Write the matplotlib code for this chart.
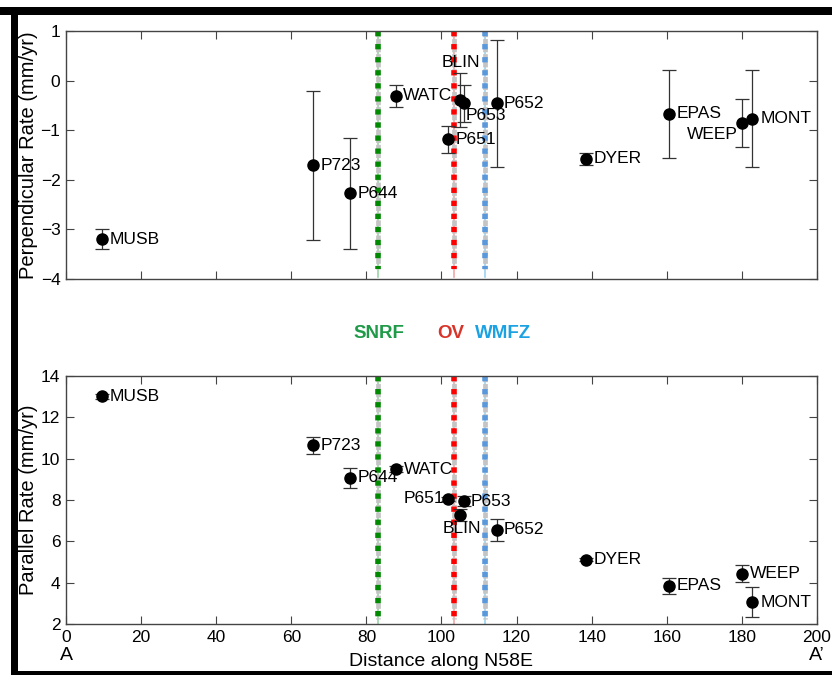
import matplotlib
matplotlib.use("Agg")
import matplotlib.pyplot as plt
from matplotlib.patches import Rectangle
import numpy as np

plt.rcParams['font.family'] = ['Liberation Sans', 'DejaVu Sans']

stations = ['MUSB', 'P723', 'P644', 'WATC', 'P651', 'BLIN', 'P653', 'P652',
            'DYER', 'EPAS', 'WEEP', 'MONT']
dist = [9.7, 65.9, 75.7, 87.9, 101.8, 104.9, 106.0, 114.7, 138.6, 160.7, 179.9, 182.8]
perp = [-3.20, -1.71, -2.27, -0.31, -1.18, -0.39, -0.46, -0.46, -1.58, -0.67, -0.85, -0.77]
perp_err = [0.20, 1.50, 1.12, 0.22, 0.27, 0.55, 0.38, 1.28, 0.13, 0.89, 0.48, 0.98]
par = [13.02, 10.65, 9.07, 9.50, 8.05, 7.26, 7.94, 6.56, 5.11, 3.84, 4.44, 3.06]
par_err = [0.12, 0.42, 0.50, 0.15, 0.10, 0.30, 0.25, 0.53, 0.08, 0.39, 0.42, 0.72]

faults = ['SNRF', 'OV', 'WMFZ']
fault_x = [83.2, 103.3, 111.5]
fault_col = ['#008a00', '#ff0000', '#5a98dc']
fault_thin = ['#9ad4a4', '#f0a8a8', '#9ad4f0']
fault_text_col = ['#1e9a48', '#d8342a', '#1ca2e2']

xticks = list(range(0, 201, 20))
perp_ticks = [-4, -3, -2, -1, 0, 1]
par_ticks = [2, 4, 6, 8, 10, 12, 14]

# label offsets in pixels (dx, dy, ha)
top_off = {
    'MUSB': (7, 0, 'left'), 'P723': (7, 0, 'left'), 'P644': (7, 0, 'left'),
    'WATC': (7, 0, 'left'), 'P651': (7, 0, 'left'), 'BLIN': (-18, 37, 'left'),
    'P653': (2, -12, 'left'), 'P652': (7, 0, 'left'), 'DYER': (7, 0, 'left'),
    'EPAS': (7, 0, 'left'), 'WEEP': (-4, -12, 'right'), 'MONT': (8, 0, 'left'),
}
bot_off = {
    'MUSB': (7, 0, 'left'), 'P723': (7, 0, 'left'), 'P644': (7, 0, 'left'),
    'WATC': (8, 0, 'left'), 'P651': (-4, 0, 'right'), 'BLIN': (-17, -13, 'left'),
    'P653': (7, 0, 'left'), 'P652': (7, 0, 'left'), 'DYER': (7, 0, 'left'),
    'EPAS': (7, 0, 'left'), 'WEEP': (8, 0, 'left'), 'MONT': (8, 0, 'left'),
}

W, H = 832, 675
fig = plt.figure(figsize=(W / 100, H / 100), dpi=100)
fig.patch.set_facecolor('white')

def axrect(left, top, right, bottom):
    return [left / W, 1 - bottom / H, (right - left) / W, (bottom - top) / H]

ax1 = fig.add_axes(axrect(66, 31, 817, 279))
ax2 = fig.add_axes(axrect(66, 376, 817, 624))

def draw_faults(ax, y0, y1, ythin0, ythin1):
    for fx, c, ct in zip(fault_x, fault_col, fault_thin):
        ax.plot([fx, fx], [ythin0, ythin1], color=ct, lw=1.2, zorder=1)
        ax.plot([fx, fx], [y0, y1], color='#c4c4c4', lw=3.4, zorder=1.5,
                linestyle=(0, (1.2, 0.4)))
        ax.plot([fx, fx], [y0, y1], color=c, lw=4.0, zorder=2,
                linestyle=(0, (0.95, 1.4)), solid_capstyle='butt',
                dash_capstyle='butt')

def style(ax, yticks, ylim, ylabel, showx):
    ax.set_xlim(0, 200)
    ax.set_ylim(*ylim)
    ax.set_xticks(xticks)
    ax.set_yticks(yticks)
    ax.tick_params(direction='in', length=6, width=0.8, color='#444444',
                   top=True, right=True, labelsize=12.5, pad=4)
    if not showx:
        ax.set_xticklabels([])
    for s in ax.spines.values():
        s.set_color('#444444')
        s.set_linewidth(1.0)
    ax.set_ylabel(ylabel, fontsize=14.5, labelpad=2)

def draw_points(ax, y, yerr, offs):
    ax.errorbar(dist, y, yerr=yerr, fmt='o', color='black', ms=8,
                ecolor='#333333', elinewidth=0.9, capsize=4.7, capthick=0.9,
                zorder=5)
    for name, xv, yv in zip(stations, dist, y):
        dx, dy, ha = offs[name]
        ax.annotate(name, (xv, yv), xytext=(dx, dy), textcoords='offset pixels',
                    ha=ha, va='center', fontsize=12.5, color='black', zorder=6)

draw_faults(ax1, 1, -3.8, 1, -3.95)
draw_points(ax1, perp, perp_err, top_off)
style(ax1, perp_ticks, (-4, 1), 'Perpendicular Rate (mm/yr)', False)

draw_faults(ax2, 14, 2.25, 14, 2.0)
draw_points(ax2, par, par_err, bot_off)
style(ax2, par_ticks, (2, 14), 'Parallel Rate (mm/yr)', True)
ax2.set_xlabel('Distance along N58E', fontsize=14, labelpad=6)

# A and A' labels
fig.text(66 / W, 1 - 656 / H, 'A', ha='center', va='center', fontsize=14)
fig.text(817 / W, 1 - 656 / H, 'A\u2019', ha='center', va='center', fontsize=14)

# fault names
fig.text(379 / W, 1 - 334 / H, faults[0], color=fault_text_col[0],
         fontsize=13.5, fontweight='bold', ha='center', va='center')
fig.text(451 / W, 1 - 334 / H, faults[1], color=fault_text_col[1],
         fontsize=13.5, fontweight='bold', ha='center', va='center')
fig.text(503 / W, 1 - 334 / H, faults[2], color=fault_text_col[2],
         fontsize=13.5, fontweight='bold', ha='center', va='center')

# black frame
def frame(x0, y0, x1, y1):
    fig.add_artist(Rectangle((x0 / W, 1 - y1 / H), (x1 - x0) / W, (y1 - y0) / H,
                             transform=fig.transFigure, facecolor='black',
                             edgecolor='none', zorder=10))
frame(0, 7, 832, 15)
frame(11, 7, 18, 675)
frame(11, 671, 832, 675)

fig.savefig('out.png', dpi=100)
